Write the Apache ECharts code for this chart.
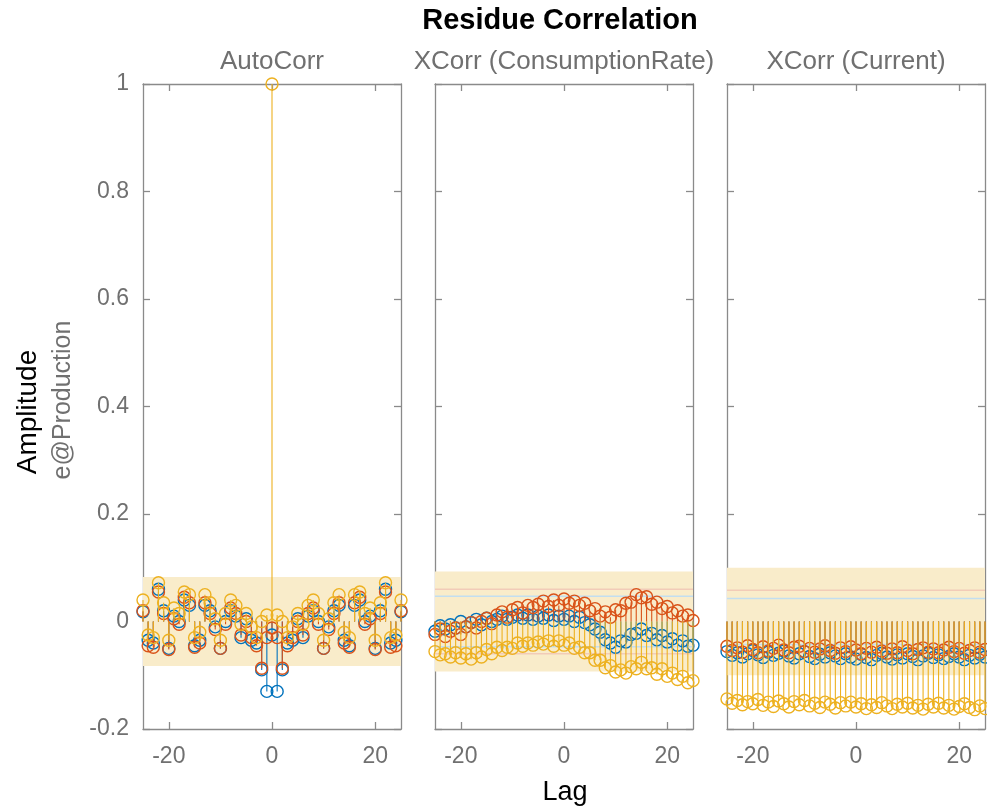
<!DOCTYPE html>
<html><head><meta charset="utf-8">
<script src="https://cdn.jsdelivr.net/npm/echarts@6/dist/echarts.min.js"></script>
<style>html,body{margin:0;padding:0;background:#fff}#c{width:987px;height:809px}</style>
</head><body><div id="c"></div>
<script>
const lags = [-25,-24,-23,-22,-21,-20,-19,-18,-17,-16,-15,-14,-13,-12,-11,-10,-9,-8,-7,-6,-5,-4,-3,-2,-1,0,1,2,3,4,5,6,7,8,9,10,11,12,13,14,15,16,17,18,19,20,21,22,23,24,25];
const panelTitles = ['AutoCorr', 'XCorr (ConsumptionRate)', 'XCorr (Current)'];
const xTickValues = [-20, 0, 20];
const seriesColors = ['#0072BD', '#D95319', '#EDB120'];

const autoBlue = [0.018,-0.035,-0.04,0.06,0.02,-0.05,0.01,0.0,0.04,0.03,-0.045,-0.035,0.03,0.02,-0.01,-0.05,0.0,0.02,0.01,-0.03,0.005,-0.035,-0.04,-0.09,-0.13,-0.025,-0.13,-0.09,-0.04,-0.035,0.005,-0.03,0.01,0.02,0.0,-0.05,-0.01,0.02,0.03,-0.035,-0.045,0.03,0.04,0.0,0.01,-0.05,0.02,0.06,-0.04,-0.035,0.018];
const autoRed = [0.02,-0.045,-0.048,0.055,0.015,-0.052,0.005,-0.005,0.045,0.035,-0.048,-0.04,0.035,0.015,-0.015,-0.05,-0.005,0.025,0.015,-0.025,0.0,-0.03,-0.045,-0.087,-0.03,-0.012,-0.03,-0.087,-0.045,-0.03,0.0,-0.025,0.015,0.025,-0.005,-0.05,-0.015,0.015,0.035,-0.04,-0.048,0.035,0.045,-0.005,0.005,-0.052,0.015,0.055,-0.048,-0.045,0.02];
const autoYellow = [0.04,-0.025,-0.03,0.072,0.035,-0.035,0.025,0.015,0.055,0.05,-0.03,-0.02,0.05,0.035,0.005,-0.035,0.015,0.04,0.03,-0.005,0.015,-0.01,-0.03,0.0,0.012,1,0.012,0.0,-0.03,-0.01,0.015,-0.005,0.03,0.04,0.015,-0.035,0.005,0.035,0.05,-0.02,-0.03,0.05,0.055,0.015,0.025,-0.035,0.035,0.072,-0.03,-0.025,0.04];

const consBlue = [-0.018,-0.008,-0.014,-0.006,-0.012,0.000,-0.010,-0.002,0.004,-0.006,
  0.006,0.000,0.004,0.010,0.004,0.008,0.012,0.006,0.012,0.004,
  0.010,0.006,0.012,0.002,0.010,0.004,0.010,0.000,0.008,-0.002,
  -0.006,-0.014,-0.020,-0.034,-0.040,-0.048,-0.036,-0.038,-0.024,-0.022,
  -0.014,-0.026,-0.022,-0.034,-0.026,-0.038,-0.032,-0.044,-0.036,-0.046,
  -0.044];
const consRed = [-0.024,-0.014,-0.028,-0.018,-0.012,-0.024,-0.010,-0.002,-0.012,0.000,
  0.006,-0.004,0.012,0.018,0.008,0.022,0.026,0.016,0.030,0.026,
  0.032,0.038,0.028,0.040,0.030,0.042,0.034,0.038,0.030,0.034,
  0.020,0.024,0.010,0.018,0.008,0.022,0.020,0.034,0.036,0.050,
  0.044,0.046,0.032,0.036,0.024,0.028,0.016,0.020,0.010,0.012,
  0.002];
const consYellow = [-0.056,-0.062,-0.060,-0.066,-0.058,-0.068,-0.060,-0.070,-0.058,-0.066,
  -0.052,-0.060,-0.048,-0.054,-0.048,-0.050,-0.040,-0.046,-0.040,-0.044,
  -0.038,-0.042,-0.036,-0.046,-0.036,-0.044,-0.040,-0.050,-0.048,-0.058,
  -0.058,-0.072,-0.072,-0.086,-0.082,-0.094,-0.090,-0.096,-0.084,-0.088,
  -0.076,-0.088,-0.086,-0.098,-0.088,-0.102,-0.096,-0.108,-0.102,-0.114,
  -0.110];

const currBlue = [-0.056,-0.063,-0.058,-0.066,-0.060,-0.054,-0.062,-0.067,-0.057,-0.063,
  -0.059,-0.055,-0.064,-0.068,-0.060,-0.056,-0.065,-0.069,-0.061,-0.066,
  -0.058,-0.064,-0.069,-0.060,-0.066,-0.070,-0.061,-0.067,-0.071,-0.063,
  -0.059,-0.066,-0.070,-0.062,-0.068,-0.060,-0.065,-0.071,-0.064,-0.059,
  -0.067,-0.062,-0.069,-0.065,-0.060,-0.066,-0.071,-0.063,-0.068,-0.061,
  -0.066];
const currRed = [-0.046,-0.054,-0.049,-0.057,-0.045,-0.052,-0.058,-0.047,-0.055,-0.050,
  -0.044,-0.053,-0.058,-0.048,-0.046,-0.056,-0.050,-0.057,-0.051,-0.045,
  -0.054,-0.059,-0.049,-0.056,-0.047,-0.053,-0.060,-0.050,-0.057,-0.048,
  -0.055,-0.059,-0.051,-0.058,-0.047,-0.054,-0.060,-0.052,-0.049,-0.057,
  -0.051,-0.058,-0.053,-0.048,-0.056,-0.050,-0.059,-0.054,-0.049,-0.057,
  -0.052];
const currYellow = [-0.144,-0.152,-0.147,-0.155,-0.149,-0.153,-0.145,-0.156,-0.150,-0.158,
  -0.148,-0.153,-0.159,-0.149,-0.155,-0.147,-0.157,-0.152,-0.160,-0.150,
  -0.154,-0.161,-0.151,-0.157,-0.150,-0.159,-0.153,-0.162,-0.155,-0.160,
  -0.151,-0.157,-0.162,-0.154,-0.159,-0.152,-0.161,-0.156,-0.163,-0.154,
  -0.159,-0.152,-0.161,-0.156,-0.163,-0.158,-0.153,-0.160,-0.164,-0.157,
  -0.162];

const confBand = [0.083, 0.093, 0.100];
const confRed = [null, 0.060, 0.058];
const confBlue = [null, 0.047, 0.043];

const panels = [
  [autoBlue, autoRed, autoYellow],
  [consBlue, consRed, consYellow],
  [currBlue, currRed, currYellow]
];

const FONT = "'Liberation Sans', Arial, Helvetica, sans-serif";
const GRAY = '#707070';
const AXIS = '#8a8a8a';
const gridLeft = [143, 435, 727];
const gridW = 258, gridTop = 84, gridH = 645;

const grids = [], xAxes = [], yAxes = [], series = [];
for (let i = 0; i < 3; i++) {
  grids.push({left: gridLeft[i], top: gridTop, width: gridW, height: gridH, outerBoundsMode: 'none', containLabel: false});
  const xBase = {type: 'value', gridIndex: i, min: -25, max: 25,
    axisLine: {show: true, onZero: false, lineStyle: {color: AXIS, width: 1.3}},
    axisTick: {show: true, inside: true, length: 7, customValues: xTickValues, lineStyle: {color: AXIS, width: 1.3}},
    splitLine: {show: false}};
  xAxes.push(Object.assign({}, xBase, {position: 'bottom',
    axisLabel: {show: true, customValues: xTickValues, fontSize: 23, color: GRAY, fontFamily: FONT, margin: 16}}));
  xAxes.push(Object.assign({}, xBase, {position: 'top', axisLabel: {show: false}}));
  const yBase = {type: 'value', gridIndex: i, min: -0.2, max: 1, interval: 0.2,
    axisLine: {show: true, onZero: false, lineStyle: {color: AXIS, width: 1.3}},
    axisTick: {show: true, inside: true, length: 7, lineStyle: {color: AXIS, width: 1.3}},
    splitLine: {show: false}};
  yAxes.push(Object.assign({}, yBase, {position: 'left',
    axisLabel: {show: i === 0, fontSize: 23, color: GRAY, fontFamily: FONT, margin: 14,
      formatter: v => String(Math.round(v * 10) / 10)}}));
  yAxes.push(Object.assign({}, yBase, {position: 'right', axisLabel: {show: false}}));

  // confidence region
  series.push({type: 'custom', xAxisIndex: 2 * i, yAxisIndex: 2 * i, silent: true, z: 1,
    data: [[-25, 25, -confBand[i], confBand[i]]],
    encode: {x: [0, 1], y: [2, 3]},
    renderItem: function (params, api) {
      const p1 = api.coord([api.value(0), api.value(3)]);
      const p2 = api.coord([api.value(1), api.value(2)]);
      return {type: 'rect', shape: {x: p1[0], y: p1[1], width: p2[0] - p1[0], height: p2[1] - p1[1]},
        style: {fill: '#f9ecca'}};
    }});
  [[confRed[i], '#f2cbb8'], [confBlue[i], '#c2def0']].forEach(([b, col]) => {
    if (b == null) return;
    series.push({type: 'custom', xAxisIndex: 2 * i, yAxisIndex: 2 * i, silent: true, z: 2,
      data: [[-25, 25, b], [-25, 25, -b]],
      encode: {x: [0, 1], y: 2},
      renderItem: function (params, api) {
        const p1 = api.coord([api.value(0), api.value(2)]);
        const p2 = api.coord([api.value(1), api.value(2)]);
        return {type: 'line', shape: {x1: p1[0], y1: p1[1], x2: p2[0], y2: p2[1]},
          style: {stroke: col, lineWidth: 1.5}};
      }});
  });

  panels[i].forEach((vals, k) => {
    const data = lags.map((l, j) => [l, vals[j]]);
    const col = seriesColors[k];
    series.push({type: 'custom', xAxisIndex: 2 * i, yAxisIndex: 2 * i, silent: true, z: 3 + 2 * k,
      data: data, encode: {x: 0, y: 1}, clip: false,
      renderItem: function (params, api) {
        const p0 = api.coord([api.value(0), 0]);
        const p1 = api.coord([api.value(0), api.value(1)]);
        return {type: 'line', shape: {x1: p0[0], y1: p0[1], x2: p1[0], y2: p1[1]},
          style: {stroke: col, lineWidth: 1.1}};
      }});
    series.push({type: 'scatter', xAxisIndex: 2 * i, yAxisIndex: 2 * i, silent: true, z: 4 + 2 * k,
      data: data, symbol: 'circle', symbolSize: 12, clip: false,
      itemStyle: {color: 'rgba(0,0,0,0)', borderColor: col, borderWidth: 1.4, opacity: 1}});
  });
}

const graphic = [
  {type: 'text', x: 560, y: 21, style: {text: 'Residue Correlation', font: "bold 29px " + FONT, fill: '#000', align: 'center', verticalAlign: 'middle'}},
  {type: 'text', x: 28, y: 412, rotation: Math.PI / 2, style: {text: 'Amplitude', font: "28px " + FONT, fill: '#000', align: 'center', verticalAlign: 'middle'}},
  {type: 'text', x: 63, y: 400, rotation: Math.PI / 2, style: {text: 'e@Production', font: "25px " + FONT, fill: GRAY, align: 'center', verticalAlign: 'middle'}},
  {type: 'text', x: 565, y: 793, style: {text: 'Lag', font: "27px " + FONT, fill: '#000', align: 'center', verticalAlign: 'middle'}}
];
panelTitles.forEach((t, i) => {
  graphic.push({type: 'text', x: gridLeft[i] + gridW / 2, y: 62,
    style: {text: t, font: "26px " + FONT, fill: GRAY, align: 'center', verticalAlign: 'middle'}});
});

const chart = echarts.init(document.getElementById('c'), null, {renderer: 'canvas'});
chart.setOption({
  animation: false,
  backgroundColor: '#fff',
  grid: grids, xAxis: xAxes, yAxis: yAxes, series: series, graphic: graphic
});
</script>
</body></html>
